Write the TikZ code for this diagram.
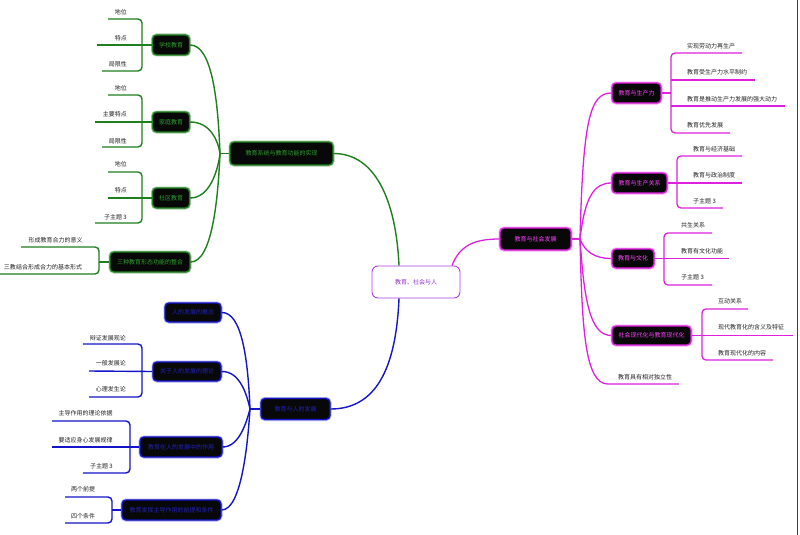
\documentclass[tikz,border=0pt]{standalone}
\usepackage{fontspec}
\setmainfont{Noto Sans CJK SC}
\definecolor{gcol}{HTML}{1E7F1E}
\definecolor{gtext}{HTML}{2EA02E}
\definecolor{bcol}{HTML}{1414C8}
\definecolor{btext}{HTML}{2222B8}
\definecolor{mcol}{HTML}{E020E0}
\definecolor{mtext}{HTML}{FF40FF}
\definecolor{nearblack}{HTML}{080808}
\definecolor{leafcol}{HTML}{222222}
\definecolor{ccol}{HTML}{B040E0}
\definecolor{ctext}{HTML}{9030D0}
\begin{document}
\begin{tikzpicture}[x=1pt,y=-1pt,
  box/.style={rounded corners=4pt, fill=nearblack, line width=1.3pt, inner sep=0pt, font=\fontsize{6}{7}\selectfont},
  gbox/.style={box, draw=gcol, text=gtext, preaction={draw=gcol!40, line width=3pt}},
  bbox/.style={box, draw=bcol, text=btext, preaction={draw=bcol!35, line width=3pt}},
  mbox/.style={box, draw=mcol, text=mtext, preaction={draw=mcol!40, line width=3pt}},
  leaf/.style={inner sep=0pt, font=\fontsize{6}{7}\selectfont, text=leafcol},
  gline/.style={draw=gcol, line width=1.4pt},
  bline/.style={draw=bcol, line width=1.4pt},
  mline/.style={draw=mcol, line width=1.3pt},
  brk/.style={rounded corners=4pt}]
\useasboundingbox (0,0) rectangle (800,535);
\fill[white] (0,0) rectangle (800,535);
\draw[gray!50!black, line width=0.8pt] (797.5,0) -- (797.5,535);

% centre
\node[draw=ccol, fill=white, rounded corners=6pt, line width=0.9pt, minimum width=88pt, minimum height=32pt, inner sep=0pt, text=ctext, font=\fontsize{6}{7}\selectfont] (center) at (416,282) {教育、社会与人};

% ===== green =====
\node[gbox, minimum width=103pt, minimum height=23pt] (gmain) at (281.5,153.5) {教育系统与教育功能的实现};
\node[gbox, minimum width=37pt, minimum height=20pt] (school) at (171,45) {学校教育};
\node[gbox, minimum width=37pt, minimum height=20pt] (family) at (171,122) {家庭教育};
\node[gbox, minimum width=37pt, minimum height=20pt] (community) at (171,198) {社区教育};
\node[gbox, minimum width=80pt, minimum height=20pt] (integ) at (150,262) {三种教育形态功能的整合};
\coordinate (gj) at (220,153.5);

\draw[gline] (center.north) ++(-17,0) .. controls (396,200) and (375,153.5) .. (gmain.east);
\draw[gline] (gmain.west) -- (gj);
\draw[gline] (school.east) .. controls (212,45) and (218,100) .. (gj);
\draw[gline] (family.east) .. controls (210,122) and (218,140) .. (gj);
\draw[gline] (community.east) .. controls (210,198) and (218,170) .. (gj);
\draw[gline] (integ.east) .. controls (212,262) and (218,200) .. (gj);

% school leaves
\node[leaf, anchor=east] (s1) at (127,12) {地位};
\node[leaf, anchor=east] (s2) at (127,38) {特点};
\node[leaf, anchor=east] (s3) at (127,64) {局限性};
\draw[gline, brk] (108,19) -- (142,19) -- (142,71) -- (102,71);
\draw[gline] (97,45) -- (school.west);
% family leaves
\node[leaf, anchor=east] (f1) at (127,88) {地位};
\node[leaf, anchor=east] (f2) at (127,114) {主要特点};
\node[leaf, anchor=east] (f3) at (127,141) {局限性};
\draw[gline, brk] (108,95) -- (142,95) -- (142,147) -- (102,147);
\draw[gline] (95,122) -- (family.west);
% community leaves
\node[leaf, anchor=east] (c1) at (127,164) {地位};
\node[leaf, anchor=east] (c2) at (127,190) {特点};
\node[leaf, anchor=east] (c3) at (127,217) {子主题 3};
\draw[gline, brk] (108,172) -- (142,172) -- (142,223) -- (95,223);
\draw[gline] (108,198) -- (community.west);
% integ leaves
\node[leaf] (i1) at (55.5,240) {形成教育合力的意义};
\node[leaf] (i2) at (43,267) {三教结合形成合力的基本形式};
\draw[gline, brk] (21,247) -- (99,247) -- (99,274) -- (0,274);
\draw[gline] (99,262) -- (integ.west);

% ===== blue =====
\node[bbox, minimum width=69pt, minimum height=21pt] (bmain) at (295.5,409) {教育与人的发展};
\node[bbox, minimum width=56pt, minimum height=19pt] (concept) at (193,312.5) {人的发展的概念};
\node[bbox, minimum width=68pt, minimum height=19pt] (theory) at (187,371.5) {关于人的发展的理论};
\node[bbox, minimum width=82pt, minimum height=20pt] (role) at (181,447) {教育在人的发展中的作用};
\node[bbox, minimum width=99pt, minimum height=20pt] (cond) at (171.5,510) {教育发挥主导作用的前提和条件};
\coordinate (bj) at (250,409);

\draw[bline] (center.south) ++(-17,0) .. controls (396,370) and (375,409) .. (bmain.east);
\draw[bline] (bmain.west) -- (bj);
\draw[bline] (concept.east) .. controls (242,312) and (248,360) .. (bj);
\draw[bline] (theory.east) .. controls (240,371) and (247,395) .. (bj);
\draw[bline] (role.east) .. controls (240,447) and (247,420) .. (bj);
\draw[bline] (cond.east) .. controls (242,510) and (248,440) .. (bj);

\node[leaf, anchor=east] (t1) at (126,338) {辩证发展观论};
\node[leaf, anchor=east] (t2) at (126,363) {一般发展论};
\node[leaf, anchor=east] (t3) at (126,389) {心理发生论};
\draw[bline, brk] (83,344) -- (142,344) -- (142,397) -- (89,397);
\draw[bline] (89,371) -- (theory.west);

\node[leaf] (r1) at (85.5,413) {主导作用的理论依据};
\node[leaf] (r2) at (85.5,440) {要适应身心发展规律};
\node[leaf, anchor=east] (r3) at (113,466) {子主题 3};
\draw[bline, brk] (52,421) -- (130,421) -- (130,473) -- (83,473);
\draw[bline] (52,447) -- (role.west);

\node[leaf] (d1) at (83,489) {两个前提};
\node[leaf] (d2) at (83,516) {四个条件};
\draw[bline, brk] (65,497) -- (112,497) -- (112,523) -- (65,523);
\draw[bline] (112,510) -- (cond.west);

% ===== magenta =====
\node[mbox, minimum width=71pt, minimum height=22pt] (mmain) at (535.5,239) {教育与社会发展};
\node[mbox, minimum width=49pt, minimum height=20pt] (prod) at (636.5,93) {教育与生产力};
\node[mbox, minimum width=55pt, minimum height=20pt] (rel) at (639.5,183) {教育与生产关系};
\node[mbox, minimum width=42pt, minimum height=19pt] (cult) at (633,258.5) {教育与文化};
\node[mbox, minimum width=79pt, minimum height=19pt] (modern) at (651.5,335.5) {社会现代化与教育现代化};
\coordinate (mj) at (580,239);

\draw[mline] (center.north) ++(36,0) .. controls (460,245) and (475,239) .. (mmain.west);
\draw[mline] (mmain.east) -- (mj);
\draw[mline] (mj) .. controls (583,120) and (590,93) .. (prod.west);
\draw[mline] (mj) .. controls (585,195) and (595,183) .. (rel.west);
\draw[mline] (mj) .. controls (585,252) and (595,258.5) .. (cult.west);
\draw[mline] (mj) .. controls (584,300) and (590,335.5) .. (modern.west);
\node[leaf] (indep) at (645,377) {教育具有相对独立性};
\coordinate (indepL) at (608,384);
\draw[mline] (mj) .. controls (582,330) and (585,384) .. (indepL) -- (679,384);

\node[leaf, anchor=west] (p1) at (687,46) {实现劳动力再生产};
\node[leaf, anchor=west] (p2) at (687,72) {教育受生产力水平制约};
\node[leaf, anchor=west] (p3) at (687,99) {教育是推动生产力发展的强大动力};
\node[leaf, anchor=west] (p4) at (687,125) {教育优先发展};
\draw[mline, brk] (742,53) -- (671,53) -- (671,133) -- (730,133);
\draw[mline] (671,80) -- (755,80);
\draw[mline] (671,106) -- (785,106);
\draw[mline] (prod.east) -- (671,93);

\node[leaf, anchor=west] (q1) at (693,149) {教育与经济基础};
\node[leaf, anchor=west] (q2) at (693,175) {教育与政治制度};
\node[leaf, anchor=west] (q3) at (693,201) {子主题 3};
\draw[mline, brk] (742,156) -- (677,156) -- (677,208) -- (723,208);
\draw[mline] (rel.east) -- (742,183);

\node[leaf, anchor=west] (u1) at (681,225) {共生关系};
\node[leaf, anchor=west] (u2) at (681,251) {教育有文化功能};
\node[leaf, anchor=west] (u3) at (681,277) {子主题 3};
\draw[mline, brk] (712,233) -- (664,233) -- (664,285) -- (712,285);
\draw[mline] (cult.east) -- (729,258.5);

\node[leaf, anchor=west] (v1) at (718,301) {互动关系};
\node[leaf, anchor=west] (v2) at (718,327) {现代教育化的含义及特征};
\node[leaf, anchor=west] (v3) at (718,353) {教育现代化的内容};
\draw[mline, brk] (748,309) -- (702,309) -- (702,360) -- (773,360);
\draw[mline] (modern.east) -- (793,335.5);
\end{tikzpicture}
\end{document}
